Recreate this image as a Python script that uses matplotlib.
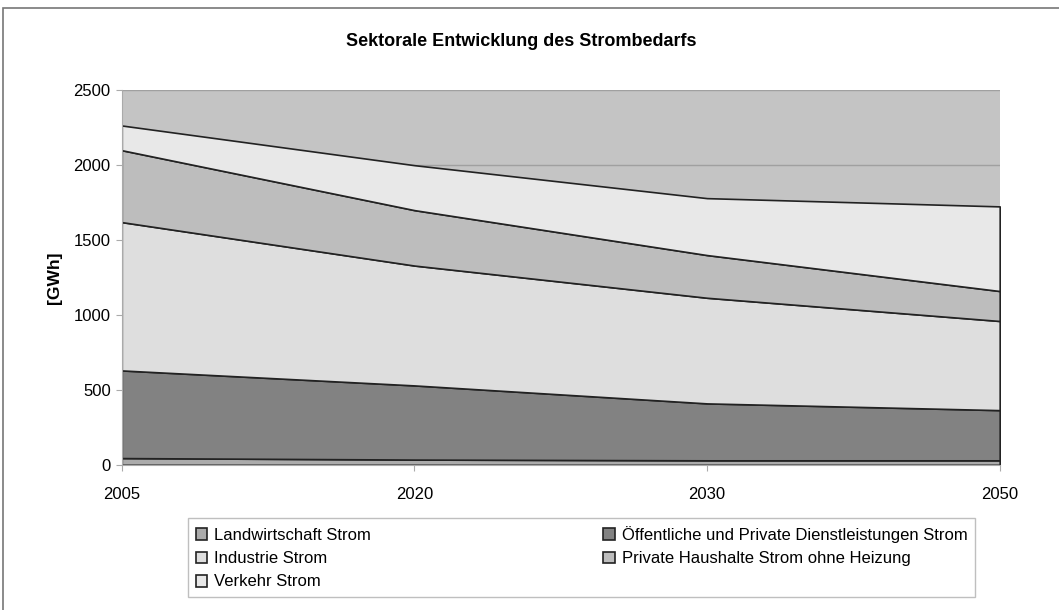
import matplotlib.pyplot as plt
from matplotlib.patches import Rectangle
import numpy as np

plt.rcParams['font.family'] = ['Liberation Sans', 'DejaVu Sans']

years = ['2005', '2020', '2030', '2050']
landwirtschaft = [45, 35, 30, 30]
oeffentliche = [585, 495, 380, 335]
industrie = [990, 800, 705, 595]
haushalte = [480, 370, 285, 200]
verkehr = [165, 300, 380, 565]

labels = ['Landwirtschaft Strom', 'Öffentliche und Private Dienstleistungen Strom',
          'Industrie Strom', 'Private Haushalte Strom ohne Heizung', 'Verkehr Strom']
colors = ['#ababab', '#828282', '#dedede', '#bdbdbd', '#e8e8e8']

fig = plt.figure(figsize=(10.59, 6.10), dpi=100)
ax = fig.add_axes([0.115, 0.238, 0.829, 0.614])
ax.set_facecolor('#c4c4c4')

x = np.arange(len(years))
polys = ax.stackplot(x, landwirtschaft, oeffentliche, industrie, haushalte, verkehr,
                     colors=colors, labels=labels, edgecolor='#222222', linewidth=1.2,
                     zorder=2)

ax.set_xlim(0, len(years) - 1)
ax.set_ylim(0, 2500)
ax.set_yticks(range(0, 2501, 500))
ax.set_xticks(x)
ax.set_xticklabels(years)
ax.yaxis.grid(True, color='#a0a0a0', linewidth=1, zorder=1)
ax.set_axisbelow(True)
for s in ['top', 'right']:
    ax.spines[s].set_visible(False)
ax.spines['left'].set_color('#aaaaaa')
ax.spines['bottom'].set_color('#aaaaaa')
ax.tick_params(axis='both', labelsize=12, color='#aaaaaa', length=4)
ax.tick_params(axis='y', pad=4)
ax.tick_params(axis='x', pad=12)
ax.set_ylabel('[GWh]', fontsize=12.5, fontweight='bold', labelpad=8)

fig.text(0.492, 0.925, 'Sektorale Entwicklung des Strombedarfs', ha='center',
         fontsize=13, fontweight='bold')

# legend order: rows fill left-to-right
order = [0, 2, 4, 1, 3]
handles = [polys[i] for i in order]
leg = fig.legend(handles, [labels[i] for i in order], ncol=2,
                 loc='lower left', mode='expand',
                 bbox_to_anchor=(188 / 1059, 13 / 610, 787 / 1059, 79 / 610),
                 frameon=True, fancybox=False, fontsize=12,
                 handlelength=0.7, handleheight=0.7, handletextpad=0.4,
                 labelspacing=0.5, borderpad=0.45, borderaxespad=0)
leg.get_frame().set_edgecolor('#b0b0b0')
leg.get_frame().set_linewidth(1)

fig.patches.append(Rectangle((3 / 1059, -0.1), 1.2, 1 - 8 / 610 + 0.1,
                             transform=fig.transFigure, fill=False,
                             edgecolor='#777777', linewidth=1.2))

fig.savefig('out.png', dpi=100)
